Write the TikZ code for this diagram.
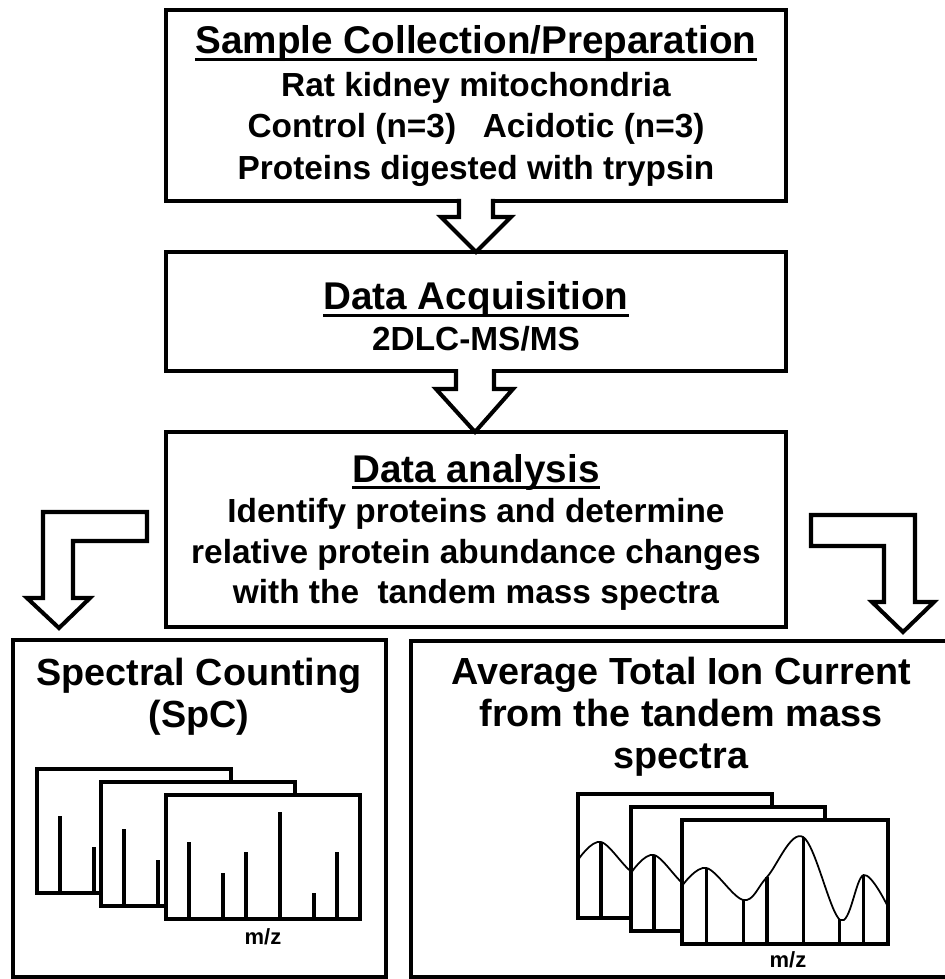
\documentclass[tikz,border=0pt]{standalone}
\usepackage{fontspec}
\setmainfont{Liberation Sans}
\usetikzlibrary{calc}
\begin{document}
\begin{tikzpicture}[x=0.02cm, y=-0.02cm, line join=miter,
  box/.style={draw, line width=2.4pt},
  frm/.style={draw, line width=2pt},
  stick/.style={line width=1.8pt},
  blk/.style={draw, line width=2.3pt, line join=miter},
  ttl/.style={font=\bfseries\fontsize{22}{26}\selectfont, inner sep=0pt},
  bdy/.style={font=\bfseries\fontsize{19}{23}\selectfont, inner sep=0pt},
  big/.style={font=\bfseries\fontsize{21.5}{25}\selectfont, inner sep=0pt},
  lab/.style={font=\bfseries\fontsize{12.5}{15}\selectfont, inner sep=0pt},
  sticks/.pic={
    \fill[white] (0,0) rectangle (194,-124);
    \foreach \dx/\h in {23/77,57/46,80/67,114/107,148/26,171/67}
      \draw[stick] (\dx,0) -- (\dx,-\h);
    \draw[frm] (0,0) rectangle (194,-124);
  },
  curves/.pic={
    \fill[white] (0,0) rectangle (194,-124);
    \begin{scope}
      \clip (0,0) rectangle (194,-124);
      \draw[line width=1pt] plot[smooth, tension=0.6] coordinates
        {(0,-58) (23,-76) (58,-44) (80,-67) (114,-107) (149,-24) (171,-69) (194,-37)};
    \end{scope}
    \foreach \dx/\h in {23/76,58/44,80/67,114/107,148/25,171/69}
      \draw[stick] (\dx,0) -- (\dx,-\h);
    \draw[frm] (0,0) rectangle (194,-124);
  }
]
\useasboundingbox (0,0) rectangle (944,979);

% ---------- box 1 ----------
\path (166,10) coordinate (b1a) (786,201) coordinate (b1b);
\draw[box] (b1a) rectangle (b1b);
\node[ttl, anchor=base] (t1) at (476,54) {Sample Collection/Preparation};
\draw[line width=1.6pt] ([yshift=-0.11cm]t1.base west) -- ([yshift=-0.11cm]t1.base east);
\node[bdy, anchor=base] (l11) at (476,97) {Rat kidney mitochondria};
\node[bdy, anchor=base] (l12) at (476,138) {Control (n=3)\hspace{0.8em}Acidotic (n=3)};
\node[bdy, anchor=base] (l13) at (476,180) {Proteins digested with trypsin};

% ---------- box 2 ----------
\path (166,252) coordinate (b2a) (786,371) coordinate (b2b);
\draw[box] (b2a) rectangle (b2b);
\node[ttl, anchor=base] (t2) at (476,310) {Data Acquisition};
\draw[line width=1.6pt] ([yshift=-0.11cm]t2.base west) -- ([yshift=-0.11cm]t2.base east);
\node[bdy, anchor=base] (l21) at (476,351) {2DLC-MS/MS};

% ---------- box 3 ----------
\path (166,432) coordinate (b3a) (786,627) coordinate (b3b);
\draw[box] (b3a) rectangle (b3b);
\node[ttl, anchor=base] (t3) at (476,482) {Data analysis};
\draw[line width=1.6pt] ([yshift=-0.11cm]t3.base west) -- ([yshift=-0.11cm]t3.base east);
\node[bdy, anchor=base] (l31) at (476,522) {Identify proteins and determine};
\node[bdy, anchor=base] (l32) at (476,563) {relative protein abundance changes};
\node[bdy, anchor=base] (l33) at (476,603) {with the\ \ tandem mass spectra};

% ---------- arrows between boxes ----------
\fill[white] (459,198) -- (459,217) -- (441,217) -- (476,252) -- (511,217) -- (493,217) -- (493,198) -- cycle;
\draw[blk] (459,199) -- (459,217) -- (441,217) -- (476,252) -- (511,217) -- (493,217) -- (493,199);
\fill[white] (456,368) -- (456,389) -- (436,389) -- (475,432) -- (513,389) -- (494,389) -- (494,368) -- cycle;
\draw[blk] (456,369) -- (456,389) -- (436,389) -- (475,432) -- (513,389) -- (494,389) -- (494,369);

% ---------- L arrows ----------
\draw[blk] (147,512) -- (147,541) -- (73,541) -- (73,598) -- (90,598) -- (59,628) -- (27,598) -- (43,598) -- (43,512) -- cycle;
\draw[blk] (811,515) -- (915,515) -- (915,602) -- (934,602) -- (903,632) -- (872,602) -- (884,602) -- (884,546) -- (811,546) -- cycle;

% ---------- bottom left box ----------
\path (13,640) coordinate (b4a) (386,977) coordinate (b4b);
\draw[box] (b4a) rectangle (b4b);
\node[big, anchor=base] (l41) at (199,685) {Spectral Counting};
\node[big, anchor=base] (l42) at (199,727) {(SpC)};
\pic (s1) at (37,893) {sticks};
\pic (s2) at (101,906) {sticks};
\pic (s3) at (166,919) {sticks};
\node[lab] (mz1) at (263,937) {m/z};

% ---------- bottom right box ----------
\path (411,641) coordinate (b5a) (962,977) coordinate (b5b);
\draw[box] (b5a) rectangle (b5b);
\node[big, anchor=base] (l51) at (681,684) {Average Total Ion Current};
\node[big, anchor=base] (l52) at (681,726) {from the tandem mass};
\node[big, anchor=base] (l53) at (681,768) {spectra};
\pic (c1) at (578,918) {curves};
\pic (c2) at (631,931) {curves};
\pic[xscale=1.062] (c3) at (682,944) {curves};
\node[lab] (mz2) at (788,960) {m/z};
\end{tikzpicture}
\end{document}
